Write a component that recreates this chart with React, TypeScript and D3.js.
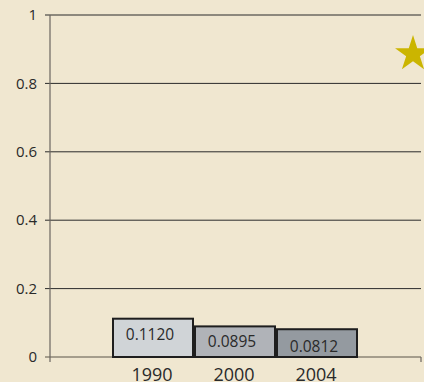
import React from "react";
import * as d3 from "d3";

const years = ["1990", "2000", "2004"];
const values = [0.112, 0.0895, 0.0812];
const valueLabels = ["0.1120", "0.0895", "0.0812"];
const barColors = ["#d0d4d7", "#b0b3b8", "#949aa0"];
const yTicks = [0, 0.2, 0.4, 0.6, 0.8, 1];

export default function App() {
  const W = 424, H = 382;
  const left = 50, right = 421, top = 15, bottom = 357;
  const y = d3.scaleLinear().domain([0, 1]).range([bottom, top]);
  const x = d3.scaleBand().domain(years).range([112, 358]).paddingInner(0).paddingOuter(0);
  const font = "'Open Sans', 'Liberation Sans', sans-serif";
  const star = d3.symbol().type(d3.symbolStar).size(400)();
  return (
    <svg width={W} height={H} style={{ position: "absolute", left: 0, top: 0, display: "block" }}>
      <rect x={0} y={0} width={W} height={H} fill="#f0e7d0" />
      {yTicks.map((t) => (
        <g key={t}>
          <line x1={45} x2={right} y1={y(t)} y2={y(t)} stroke={t === 0 ? "#5a5448" : "#2a2a2a"} strokeWidth={1} />
          <text x={37} y={y(t)} dy="0.35em" textAnchor="end" fontFamily={font} fontSize={15} fill="#2a2a2a">
            {String(t)}
          </text>
        </g>
      ))}
      <line x1={left} x2={left} y1={top} y2={bottom + 5} stroke="#6b6660" strokeWidth={1.2} />
      <line x1={right} x2={right} y1={bottom} y2={bottom + 5} stroke="#6b6660" strokeWidth={1.2} />
      {years.map((yr, i) => {
        const bx = x(yr)!;
        const bw = x.bandwidth();
        const by = y(values[i]);
        return (
          <g key={yr}>
            <rect x={bx + 1} y={by} width={bw - 2} height={bottom - by} fill={barColors[i]} stroke="#1e1e1e" strokeWidth={2} />
            <text x={bx + bw / 2 - 3} y={by + 15.5 + (i === 2 ? 1.5 : 0)} dy="0.35em" textAnchor="middle" fontFamily={font} fontSize={15.5} fill="#2a2a2a">
              {valueLabels[i]}
            </text>
            <text x={bx + bw / 2 - 1} y={381} textAnchor="middle" fontFamily={font} fontSize={18} fill="#2a2a2a">
              {yr}
            </text>
          </g>
        );
      })}
      <path d={star!} transform="translate(413,54)" fill="#cbb500" />
    </svg>
  );
}
